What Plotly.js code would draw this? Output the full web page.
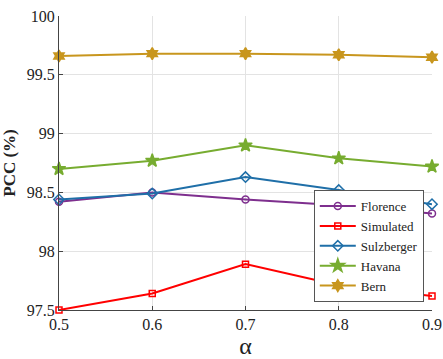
<!DOCTYPE html>
<html>
<head>
<meta charset="utf-8">
<script src="https://cdn.plot.ly/plotly-3.0.1.min.js"></script>
<style>body{margin:0}#plot{width:443px;height:359px}</style>
</head>
<body>
<div id="plot"></div>
<script>
// alpha values and PCC (%) per dataset
const alpha = [0.5, 0.6, 0.7, 0.8, 0.9];
const florence = [98.42, 98.50, 98.44, 98.39, 98.32];
const simulated = [97.50, 97.64, 97.89, 97.71, 97.62];
const sulzberger = [98.44, 98.49, 98.63, 98.52, 98.40];
const havana = [98.70, 98.77, 98.90, 98.79, 98.72];
const bern = [99.66, 99.68, 99.68, 99.67, 99.65];

function line(y, name, color, symbol, size) {
  return {
    x: alpha, y: y, name: name, type: "scatter", mode: "lines+markers",
    line: {color: color, width: 2},
    marker: {symbol: symbol, size: size, color: color, line: {color: color, width: 1.5}},
    cliponaxis: false
  };
}

const traces = [
  line(florence, "Florence", "#7e2f8e", "circle-open", 7),
  line(simulated, "Simulated", "#ff0000", "square-open", 6),
  line(sulzberger, "Sulzberger", "#1f6fa8", "diamond-open", 8),
  line(havana, "Havana", "#77ac30", "star", 10),
  line(bern, "Bern", "#c8961e", "hexagram", 9)
];

const serif = "Liberation Serif";

const layout = {
  width: 443, height: 359,
  margin: {l: 59, r: 11, t: 16, b: 49},
  paper_bgcolor: "white", plot_bgcolor: "white",
  font: {family: serif, size: 16, color: "#222"},
  showlegend: true,
  legend: {
    x: 0.978, xanchor: "right", y: 0.027, yanchor: "bottom",
    bgcolor: "white", bordercolor: "#555", borderwidth: 1,
    font: {family: serif, size: 13, color: "#222"}, tracegroupgap: 0,
    itemwidth: 36
  },
  xaxis: {
    range: [0.5, 0.9], tickvals: alpha, ticktext: ["0.5", "0.6", "0.7", "0.8", "0.9"],
    showgrid: true, gridcolor: "#e3e3e3", zeroline: false,
    showline: true, linecolor: "#444", linewidth: 1,
    ticks: "inside", ticklen: 4, tickcolor: "#444",
    tickfont: {family: serif, size: 16},
    title: {text: "α", font: {family: serif, size: 24}, standoff: 7}
  },
  yaxis: {
    range: [97.5, 100], dtick: 0.5, tick0: 97.5,
    showgrid: true, gridcolor: "#e3e3e3", zeroline: false,
    showline: true, linecolor: "#444", linewidth: 1,
    ticks: "inside", ticklen: 4, tickcolor: "#444",
    tickfont: {family: serif, size: 16},
    title: {text: "<b>PCC (%)</b>", font: {family: serif, size: 17}, standoff: 6}
  }
};

Plotly.newPlot("plot", traces, layout, {displayModeBar: false, staticPlot: true});
</script>
</body>
</html>
